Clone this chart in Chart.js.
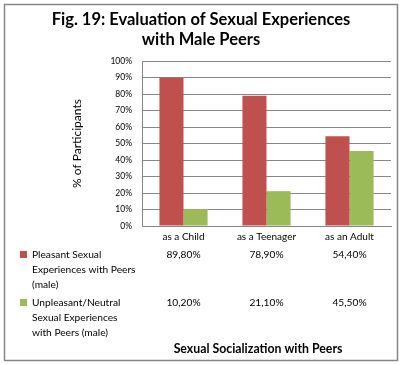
<!DOCTYPE html>
<html>
<head>
<meta charset="utf-8">
<script src="https://cdn.jsdelivr.net/npm/chart.js@4.4.0/dist/chart.umd.min.js"></script>
<style>
    body { margin: 0; background: #fff; }
    #chart { display: block; }
</style>
</head>
<body>
<canvas id="chart" width="403" height="365"></canvas>
<script>
const categories = ["as a Child", "as a Teenager", "as an Adult"];
const pleasant = [89.8, 78.9, 54.4];
const unpleasant = [10.2, 21.1, 45.5];
const seriesLabels = [
    ["Pleasant Sexual", "Experiences with Peers", "(male)"],
    ["Unpleasant/Neutral", "Sexual Experiences", "with Peers (male)"]
];
const titleLines = ["Fig. 19: Evaluation of Sexual Experiences", "with Male Peers"];
const yTitle = "% of Participants";
const xTitle = "Sexual Socialization with Peers";

const fmt = (v) => v.toFixed(2).replace(".", ",") + "%";

// title, table under the plot, frame round everything
const tablePlugin = {
    id: "dataTable",
    afterDraw(chart) {
        const ctx = chart.ctx;
        const xs = chart.scales.x;
        ctx.save();

        ctx.strokeStyle = "#868686";
        ctx.lineWidth = 1.5;
        ctx.strokeRect(4.5, 4.5, 393, 356);

        ctx.fillStyle = "#000";
        ctx.font = "bold 16.5px Lato";
        ctx.textAlign = "center";
        ctx.textBaseline = "middle";
        titleLines.forEach((line, i) => ctx.fillText(line, 201, 20 + i * 20));

        const rowTops = [255, 303];
        chart.data.datasets.forEach((ds, i) => {
            const y = rowTops[i];
            ctx.fillStyle = ds.backgroundColor;
            ctx.fillRect(20, y - 4, 7, 7);

            ctx.fillStyle = "#000";
            ctx.font = "10.2px Lato";
            ctx.textAlign = "left";
            seriesLabels[i].forEach((line, j) => {
                ctx.fillText(line, 32, y + j * 15);
            });

            ctx.textAlign = "center";
            ds.data.forEach((v, k) => {
                ctx.fillText(fmt(v), xs.getPixelForValue(k), y);
            });
        });

        ctx.font = "bold 12.3px Lato";
        ctx.textAlign = "center";
        ctx.fillText(xTitle, 258, 349);
        ctx.restore();
    }
};

new Chart(document.getElementById("chart"), {
    type: "bar",
    data: {
        labels: categories,
        datasets: [
            { label: seriesLabels[0].join(" "), data: pleasant, backgroundColor: "#C0504D" },
            { label: seriesLabels[1].join(" "), data: unpleasant, backgroundColor: "#9BBB59" }
        ]
    },
    options: {
        responsive: false,
        animation: false,
        categoryPercentage: 0.58,
        barPercentage: 1,
        layout: { padding: { left: 66, right: 12, top: 61, bottom: 117 } },
        font: { family: "Lato" },
        plugins: {
            legend: { display: false },
            tooltip: { enabled: false },
            title: { display: false }
        },
        scales: {
            x: {
                grid: { display: false, drawTicks: false },
                border: { color: "#868686" },
                ticks: { color: "#000", font: { family: "Lato", size: 10 }, padding: 5 }
            },
            y: {
                min: 0,
                max: 100,
                grid: { color: "#868686", drawTicks: false },
                border: { color: "#868686" },
                ticks: {
                    stepSize: 10,
                    color: "#000",
                    padding: 10,
                    font: { family: "Lato", size: 8.5 },
                    callback: (v) => v + "%"
                },
                title: {
                    display: true,
                    text: yTitle,
                    color: "#000",
                    font: { family: "Lato", size: 12 },
                    padding: { top: 4, bottom: 0 }
                },
                afterFit(scale) { scale.width = 76; }
            }
        }
    },
    plugins: [tablePlugin]
});
</script>
</body>
</html>
